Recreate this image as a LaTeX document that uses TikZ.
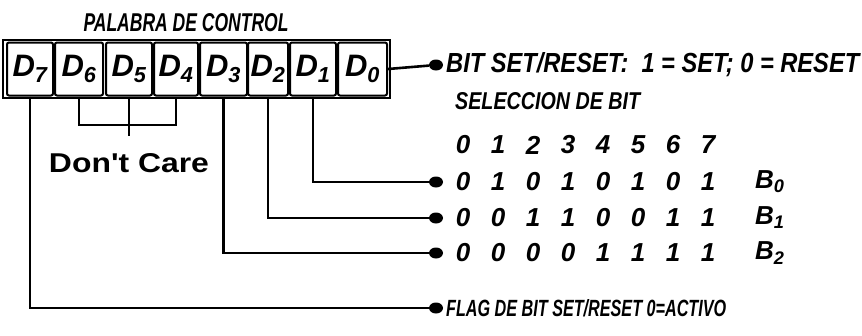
\documentclass[tikz,border=0pt]{standalone}
\usepackage{fontspec}
\setmainfont{Liberation Sans}
\usepackage{graphicx}
\usetikzlibrary{shapes.geometric}
\begin{document}
\begin{tikzpicture}[x=1pt,y=-1pt,
  wire/.style={line width=2.6pt},
  dotc/.style={ellipse,fill,inner sep=0pt,minimum width=14pt,minimum height=11pt},
  bitbox/.style={draw,line width=2pt,rounded corners=2pt,inner sep=0pt,minimum height=53pt,
     font=\fontsize{31}{31}\selectfont\bfseries\itshape},
  lbl/.style={inner sep=0pt,anchor=west,font=\bfseries\itshape},
  digit/.style={inner sep=0pt,font=\fontsize{26}{26}\selectfont\bfseries\itshape},
  frame/.style={draw,line width=2.8pt}]
\useasboundingbox (0,0) rectangle (862,335);
% title
\node[inner sep=0pt,font=\bfseries\itshape] (title) at (186,23) {\resizebox{205pt}{18pt}{PALABRA DE CONTROL}};
% outer frame
\draw[frame] (3,40) rectangle (390,98);
% bit boxes
\foreach \n/\a/\b in {7/7/53,6/55/103,5/106/152,4/154/198,3/200/247,2/248/288,1/290/336,0/338/387}{
  \node[bitbox,minimum width={(\b-\a)*1pt}] (d\n) at ({(\a+\b)/2},69) {D\textsubscript{\n}};
}
% dots
\node[dotc] (dset) at (436,65) {};
\node[dotc] (db0) at (436,182) {};
\node[dotc] (db1) at (436,218) {};
\node[dotc] (db2) at (436,253) {};
\node[dotc] (dflag) at (436,308) {};
% connectors
\draw[wire] (d0.east) -- (dset);
\draw[wire] (d1.south) |- (db0);
\draw[wire] (d2.south) |- (db1);
\draw[wire] (d3.south) |- (db2);
\draw[wire] (d7.south) |- (dflag);
% don't care bracket
\coordinate (dcj) at (d5.south |- 0,125);
\coordinate (dct) at (d5.south |- 0,136);
\draw[wire] (d6.south) |- (dcj) -| (d4.south);
\draw[wire] (d5.south) -- (dct);
\node[inner sep=0pt,font=\bfseries] (dc) at (129,163) {\resizebox{160pt}{19pt}{Don\textquotesingle t Care}};
% texts
\node[lbl] (tset) at (446,65) {\resizebox{413pt}{20pt}{BIT SET/RESET:\ \ 1 = SET; 0 = RESET}};
\node[lbl] (tsel) at (455,101) {\resizebox{185pt}{17pt}{SELECCION DE BIT}};
\node[lbl] (tflag) at (446,308) {\resizebox{280pt}{17pt}{FLAG DE BIT SET/RESET 0=ACTIVO}};
% digits
\foreach \v [count=\i from 0] in {0,1,2,3,4,5,6,7}
  \node[digit] (h\i) at (463+35*\i,145) {\v};
\foreach \v [count=\i from 0] in {0,1,0,1,0,1,0,1}
  \node[digit] (ra\i) at (463+35*\i,182) {\v};
\foreach \v [count=\i from 0] in {0,0,1,1,0,0,1,1}
  \node[digit] (rb\i) at (463+35*\i,218) {\v};
\foreach \v [count=\i from 0] in {0,0,0,0,1,1,1,1}
  \node[digit] (rc\i) at (463+35*\i,253) {\v};
\node[digit,anchor=west] (b0) at (755,182) {B\textsubscript{0}};
\node[digit,anchor=west] (b1) at (755,218) {B\textsubscript{1}};
\node[digit,anchor=west] (b2) at (755,253) {B\textsubscript{2}};
\end{tikzpicture}
\end{document}
